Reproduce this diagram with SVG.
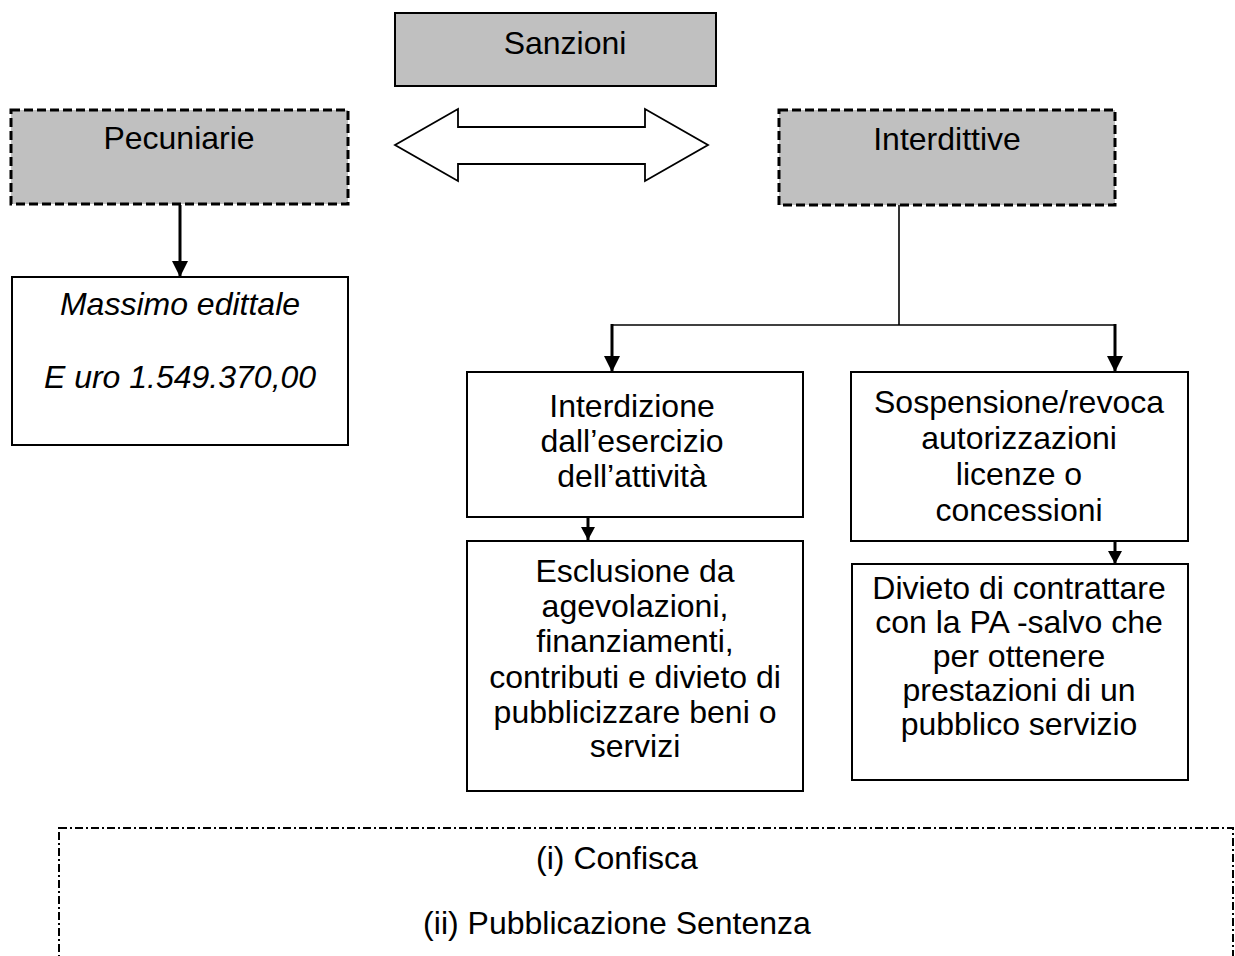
<svg xmlns="http://www.w3.org/2000/svg" width="1235" height="956" viewBox="0 0 1235 956">
<style>
text{font-family:"Liberation Sans",Arial,sans-serif;font-size:32px;fill:#000;text-anchor:middle}
.it{font-style:italic}
.gray{fill:#c0c0c0;stroke:#000;stroke-width:2}
.dash{fill:#c0c0c0;stroke:#000;stroke-width:3;stroke-dasharray:9 4}
.box{fill:#fff;stroke:#000;stroke-width:2}
.thick{fill:none;stroke:#000;stroke-width:3}
.thin{fill:none;stroke:#000;stroke-width:1.6}
.dd{fill:none;stroke:#000;stroke-width:2;stroke-dasharray:8 3 2 3}
</style>
<defs>
<marker id="ah" markerUnits="userSpaceOnUse" markerWidth="18" markerHeight="16" refX="16" refY="8" orient="auto">
<path d="M0,0 L16,8 L0,16 Z" fill="#000"/>
</marker>
<marker id="ahs" markerUnits="userSpaceOnUse" markerWidth="14" markerHeight="14" refX="13" refY="7" orient="auto">
<path d="M0,0 L13,7 L0,14 Z" fill="#000"/>
</marker>
</defs>

<g id="connectors">
<line class="thick" x1="180" y1="205" x2="180" y2="277" marker-end="url(#ah)"/>
<line class="thin" x1="899" y1="205" x2="899" y2="325"/>
<line class="thin" x1="611" y1="325" x2="1116" y2="325"/>
<line class="thick" x1="612" y1="324" x2="612" y2="372" marker-end="url(#ah)"/>
<line class="thick" x1="1115" y1="324" x2="1115" y2="372" marker-end="url(#ah)"/>
<line class="thick" x1="588" y1="517" x2="588" y2="540" marker-end="url(#ahs)"/>
<line class="thick" x1="1115" y1="541" x2="1115" y2="564" marker-end="url(#ahs)"/>
<polygon points="395,145 458,109 458,127 645,127 645,109 708,145 645,181 645,164 458,164 458,181" fill="#fff" stroke="#000" stroke-width="1.8" stroke-linejoin="miter"/>
</g>

<g id="sanzioni">
<rect class="gray" x="395" y="13" width="321" height="73"/>
<text x="565" y="54">Sanzioni</text>
</g>

<g id="pecuniarie">
<rect class="dash" x="11" y="110" width="337" height="94"/>
<text x="179" y="149">Pecuniarie</text>
</g>

<g id="interdittive">
<rect class="dash" x="779" y="110" width="336" height="95"/>
<text x="947" y="150">Interdittive</text>
</g>

<g id="massimo">
<rect class="box" x="12" y="277" width="336" height="168"/>
<text class="it" x="180" y="315">Massimo edittale</text>
<text class="it" x="180" y="388">E uro 1.549.370,00</text>
</g>

<g id="interdizione">
<rect class="box" x="467" y="372" width="336" height="145"/>
<text x="632" y="417">Interdizione</text>
<text x="632" y="452">dall’esercizio</text>
<text x="632" y="487">dell’attività</text>
</g>

<g id="esclusione">
<rect class="box" x="467" y="541" width="336" height="250"/>
<text x="635" y="582">Esclusione da</text>
<text x="635" y="617">agevolazioni,</text>
<text x="635" y="652">finanziamenti,</text>
<text x="635" y="688">contributi e divieto di</text>
<text x="635" y="723">pubblicizzare beni o</text>
<text x="635" y="757">servizi</text>
</g>

<g id="sospensione">
<rect class="box" x="851" y="372" width="337" height="169"/>
<text x="1019" y="413">Sospensione/revoca</text>
<text x="1019" y="449">autorizzazioni</text>
<text x="1019" y="485">licenze o</text>
<text x="1019" y="521">concessioni</text>
</g>

<g id="divieto">
<rect class="box" x="852" y="564" width="336" height="216"/>
<text x="1019" y="599">Divieto di contrattare</text>
<text x="1019" y="633">con la PA -salvo che</text>
<text x="1019" y="667">per ottenere</text>
<text x="1019" y="701">prestazioni di un</text>
<text x="1019" y="735">pubblico servizio</text>
</g>

<g id="altre">
<rect class="dd" x="59" y="828" width="1174" height="160"/>
<text x="617" y="869">(i) Confisca</text>
<text x="617" y="934">(ii) Pubblicazione Sentenza</text>
</g>
</svg>
